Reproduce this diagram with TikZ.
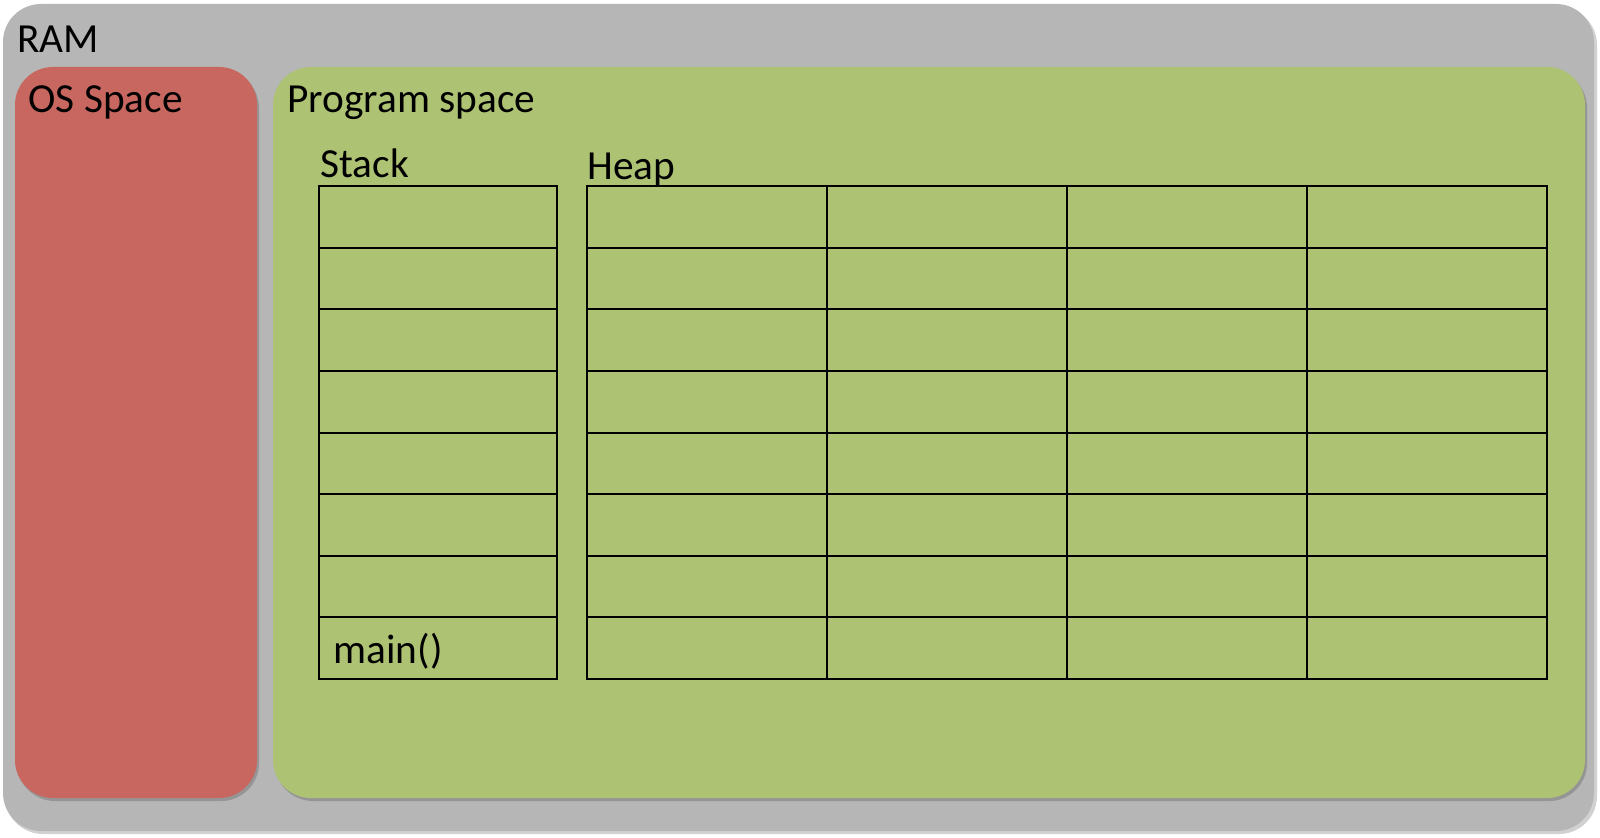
\documentclass[tikz,border=0pt]{standalone}
\usepackage{fontspec}
\setmainfont{Carlito}

\definecolor{ramgray}{RGB}{182,182,182}
\definecolor{osred}{RGB}{200,103,96}
\definecolor{proggreen}{RGB}{173,194,114}

\tikzset{every picture/.style={line width=0.75pt}}
\tikzset{
  memlabel/.style={anchor=base west, inner sep=0pt, font=\fontsize{31}{37}\selectfont},
  membox/.style={rounded corners=28.5pt, draw=none},
  boxshadow/.style={rounded corners=28.5pt, draw=none, fill=black, fill opacity=0.18},
  cellline/.style={line width=1.5pt, draw=black}
}

\begin{document}
\begin{tikzpicture}[x=0.75pt,y=0.75pt,yscale=-1,xscale=1]
		\path (0,0) rectangle (1600,838); %set diagram size
		
		%Shape: RAM box
		\fill [boxshadow] (5,7) rectangle (1597,834) ;
		\fill [membox, fill=ramgray] (3,4) rectangle (1594,831) ;
		%Shape: OS space
		\fill [boxshadow] (17,70) rectangle (259,801) ;
		\fill [membox, fill=osred] (15,67) rectangle (257,798) ;
		%Shape: Program space
		\fill [boxshadow] (275,70) rectangle (1587,801) ;
		\fill [membox, fill=proggreen] (273,67) rectangle (1585,798) ;
		
		%Shape: Stack
		\draw [cellline] (319,186) rectangle (557,679) ;
		\foreach \r in {1,...,7}
			\draw [cellline] (319,186+61.625*\r) -- (557,186+61.625*\r) ;
		%Shape: Heap
		\draw [cellline] (587,186) rectangle (1547,679) ;
		\foreach \r in {1,...,7}
			\draw [cellline] (587,186+61.625*\r) -- (1547,186+61.625*\r) ;
		\foreach \c in {1,2,3}
			\draw [cellline] (587+240*\c,186) -- (587+240*\c,679) ;
		
		% Text Node
		\node [memlabel] (ram) at (17,53) {RAM};
		% Text Node
		\node [memlabel] (os) at (28,113) {OS Space};
		% Text Node
		\node [memlabel] (prog) at (287,113) {Program space};
		% Text Node
		\node [memlabel] (stack) at (320,178) {Stack};
		% Text Node
		\node [memlabel] (heap) at (587,180) {Heap};
		% Text Node
		\node [memlabel] (main) at (333,663) {main()};
		
\end{tikzpicture}
\end{document}
